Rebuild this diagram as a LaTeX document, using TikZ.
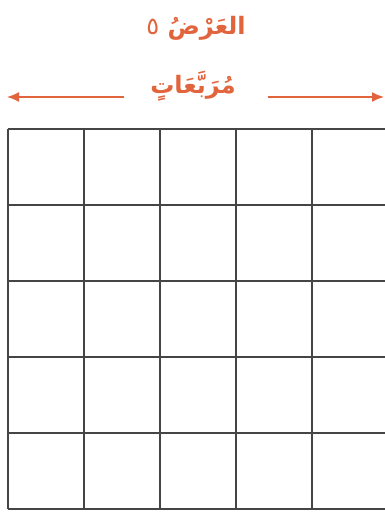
\documentclass[tikz,border=0pt]{standalone}
\usepackage{fontspec}
\usepackage{xcolor}
\usepackage{tikz}
\usetikzlibrary{arrows.meta,positioning}
\newfontfamily\arabicfont[Script=Arabic]{DejaVu Sans}
\TeXXeTstate=1
\definecolor{lblorange}{HTML}{E2643C}
\definecolor{gridgray}{HTML}{454545}

\begin{document}
\begin{tikzpicture}[x=1pt,y=1pt,
  lbl/.style={text=lblorange,inner sep=0pt,font=\arabicfont\bfseries\fontsize{24}{28}\selectfont},
  arr/.style={-{Latex[length=12pt,width=10pt]},draw=lblorange,line width=1.6pt},
  gridline/.style={draw=gridgray,line width=2.4pt}]
 \useasboundingbox (0,0) rectangle (385,515);
 \node[lbl] (width) at (196,487) {\beginR العَرْضُ {\mdseries\char"0665}\endR};
 \node[lbl] (units) at (193,429) {\beginR مُرَبَّعَاتٍ\endR};
 \coordinate (leftend) at (7,418);
 \coordinate (rightend) at (384,418);
 \draw[arr] (units.west |- leftend) ++(-26,0) coordinate (ls) (ls) -- (leftend);
 \draw[arr] (units.east |- rightend) ++(32,0) coordinate (rs) (rs) -- (rightend);
 % grid of 5 x 5 squares
 \draw[gridline,shift={(8,6)},step=76] (0,0) grid (380,380);
\end{tikzpicture}
\end{document}
